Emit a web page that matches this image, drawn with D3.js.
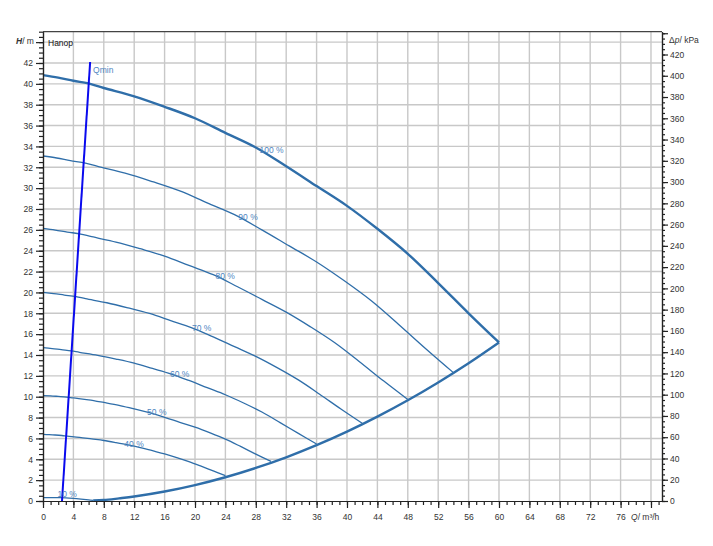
<!DOCTYPE html>
<html><head><meta charset="utf-8">
<script src="https://cdn.jsdelivr.net/npm/d3@7"></script>
<style>body{margin:0;background:#fff}svg{display:block}text{font-family:"Liberation Sans",Arial,sans-serif}</style>
</head><body><svg id="c" width="713" height="546"></svg>
<script>
// ---- data (Q in m³/h, H in m) ----
const curve100 = [[0,40.84],[2,40.6],[4,40.3],[6.2,40.0],[8,39.6],[12,38.8],[16,37.8],[20,36.7],[24,35.3],[28,33.9],[32,32.1],[36,30.2],[40,28.3],[44,26.1],[48,23.7],[52,20.9],[56,18.0],[60,15.2]];
const curve90 = [[0,33.08],[1.8,32.89],[3.6,32.64],[5.58,32.4],[7.2,32.08],[10.8,31.43],[14.4,30.62],[18,29.73],[21.6,28.59],[25.2,27.46],[28.8,26.0],[32.4,24.46],[36,22.92],[39.6,21.14],[43.2,19.2],[46.8,16.93],[50.4,14.58],[54,12.31]];
const curve80 = [[0,26.14],[1.6,25.98],[3.2,25.79],[4.96,25.6],[6.4,25.34],[9.6,24.83],[12.8,24.19],[16,23.49],[19.2,22.59],[22.4,21.7],[25.6,20.54],[28.8,19.33],[32,18.11],[35.2,16.7],[38.4,15.17],[41.6,13.38],[44.8,11.52],[48,9.73]];
const curve70 = [[0,20.0],[1.4,19.89],[2.8,19.75],[4.34,19.6],[5.6,19.4],[8.4,19.01],[11.2,18.52],[14,17.98],[16.8,17.3],[19.6,16.61],[22.4,15.73],[25.2,14.8],[28,13.87],[30.8,12.79],[33.6,11.61],[36.4,10.24],[39.2,8.82],[42,7.45]];
const curve60 = [[0,14.7],[1.2,14.62],[2.4,14.51],[3.72,14.4],[4.8,14.26],[7.2,13.97],[9.6,13.61],[12,13.21],[14.4,12.71],[16.8,12.2],[19.2,11.56],[21.6,10.87],[24,10.19],[26.4,9.4],[28.8,8.53],[31.2,7.52],[33.6,6.48],[36,5.47]];
const curve50 = [[0,10.1],[1,10.08],[2,10.03],[3.1,9.97],[4,9.88],[6,9.7],[8,9.45],[10,9.18],[12,8.83],[14,8.48],[16,8.03],[18,7.55],[20,7.08],[22,6.53],[24,5.93],[26,5.23],[28,4.5],[30,3.8]];
const curve40 = [[0,6.38],[0.8,6.36],[1.6,6.33],[2.48,6.28],[3.2,6.22],[4.8,6.1],[6.4,5.95],[8,5.8],[9.6,5.6],[11.2,5.38],[12.8,5.12],[14.4,4.82],[16,4.52],[17.6,4.17],[19.2,3.78],[20.8,3.34],[22.4,2.88],[24,2.43]];
const curve10 = [[0,0.33],[1,0.33],[2,0.32],[3,0.3],[4,0.25],[5,0.18],[6,0.1],[6.6,0.05]];
const systemCurve = [[6.6,0.05],[8,0.09],[10,0.25],[12,0.43],[16,0.91],[20,1.53],[24,2.28],[28,3.17],[32,4.19],[36,5.35],[40,6.65],[44,8.09],[48,9.66],[52,11.37],[56,13.21],[60,15.2]];
const qminLine = [[2.5,0],[6.2,42.1]];
const speedCurves = [curve100, curve90, curve80, curve70, curve60, curve50, curve40, curve10];
const speedLabels = ["100 %","90 %","80 %","70 %","60 %","50 %","40 %","10 %"];
const labelQ = [28.5, 25.7, 22.7, 19.6, 16.7, 13.7, 10.7, 1.9];
const xTickLabels = d3.range(0, 80, 4);      // 0..76
const yTickLabels = d3.range(0, 43, 2);      // 0..42
const kpaTickLabels = d3.range(0, 421, 20);  // 0..420
const xMax = 81.45, yMax = 45, kpaPerM = 9.81;

// ---- layout ----
const L = 43, R = 662, T = 31.7, B = 501;
const svg = d3.select("#c");
const x = d3.scaleLinear().domain([0, xMax]).range([L, R]);
const y = d3.scaleLinear().domain([0, yMax]).range([B, T]);
const yk = d3.scaleLinear().domain([0, yMax * kpaPerM]).range([B, T]);

const curveColor = "#2f6ea9", labelColor = "#4f86bf", gridColor = "#c8c8c8", axisColor = "#222", textColor = "#333";

// grid
const g = svg.append("g");
g.selectAll("line.v").data(d3.range(4, 81, 4)).join("line")
  .attr("x1", d => x(d)).attr("x2", d => x(d)).attr("y1", T).attr("y2", B)
  .attr("stroke", gridColor).attr("stroke-width", 1.4);
g.selectAll("line.h").data(d3.range(2, 45, 2)).join("line")
  .attr("y1", d => y(d)).attr("y2", d => y(d)).attr("x1", L).attr("x2", R)
  .attr("stroke", gridColor).attr("stroke-width", 1.4);
svg.append("line").attr("x1", L).attr("x2", R).attr("y1", T).attr("y2", T)
  .attr("stroke", "#444").attr("stroke-width", 1.2);

// curves
const line = d3.line().x(d => x(d[0])).y(d => y(d[1])).curve(d3.curveCatmullRom.alpha(0.5));
speedCurves.forEach((c, i) => {
  svg.append("path").attr("d", line(c)).attr("fill", "none")
    .attr("stroke", curveColor).attr("stroke-width", i === 0 ? 2.4 : 1.3);
});
svg.append("path").attr("d", line(systemCurve)).attr("fill", "none")
  .attr("stroke", curveColor).attr("stroke-width", 2.4);

// Qmin
const qline = d3.line().x(d => x(d[0])).y(d => y(d[1]));
svg.append("path").attr("d", qline(qminLine)).attr("fill", "none")
  .attr("stroke", "#0a0aee").attr("stroke-width", 2);
svg.append("text").attr("x", x(qminLine[1][0]) + 3).attr("y", y(qminLine[1][1]) + 8.5)
  .attr("dy", "0.35em").attr("font-size", 8.5).attr("fill", labelColor).text("Qmin");

// speed labels
function interp(c, q) {
  for (let i = 1; i < c.length; i++) {
    if (q <= c[i][0]) {
      const t = (q - c[i-1][0]) / (c[i][0] - c[i-1][0]);
      return c[i-1][1] + t * (c[i][1] - c[i-1][1]);
    }
  }
  return c[c.length - 1][1];
}
speedCurves.forEach((c, i) => {
  const yy = Math.min(y(interp(c, labelQ[i])), y(0) - 7);
  svg.append("text").attr("x", x(labelQ[i])).attr("y", yy).attr("dy", "0.35em")
    .attr("font-size", 8.5).attr("fill", labelColor).text(speedLabels[i]);
});

// axes
function styleAxis(sel) {
  sel.selectAll("path.domain").attr("stroke", axisColor).attr("stroke-width", 1.2);
  sel.selectAll(".tick line").attr("stroke", axisColor).attr("stroke-width", 1.2);
  sel.selectAll("text").attr("fill", textColor).attr("font-size", 8.5)
    .attr("font-family", '"Liberation Sans",Arial,sans-serif');
}
// left
svg.append("g").attr("transform", `translate(${L},0)`)
  .call(d3.axisLeft(y).tickValues(d3.range(0, 45.01, 0.5)).tickSize(4).tickSizeOuter(0).tickFormat(""))
  .call(styleAxis);
svg.append("g").attr("transform", `translate(${L},0)`)
  .call(d3.axisLeft(y).tickValues(d3.range(0, 45, 2)).tickSize(7).tickPadding(3).tickSizeOuter(0)
    .tickFormat(d => yTickLabels.includes(d) ? d : ""))
  .call(styleAxis);
// bottom
svg.append("g").attr("transform", `translate(0,${B})`)
  .call(d3.axisBottom(x).tickValues(d3.range(0, 81.01, 1)).tickSize(4).tickSizeOuter(0).tickFormat(""))
  .call(styleAxis);
svg.append("g").attr("transform", `translate(0,${B})`)
  .call(d3.axisBottom(x).tickValues(d3.range(0, 81, 4)).tickSize(7).tickPadding(6).tickSizeOuter(0)
    .tickFormat(d => xTickLabels.includes(d) ? d : ""))
  .call(styleAxis);
// right
svg.append("g").attr("transform", `translate(${R},0)`)
  .call(d3.axisRight(yk).tickValues(d3.range(0, 441, 5)).tickSize(3).tickSizeOuter(0).tickFormat(""))
  .call(styleAxis);
svg.append("g").attr("transform", `translate(${R},0)`)
  .call(d3.axisRight(yk).tickValues(d3.range(0, 441, 20)).tickSize(6).tickPadding(2).tickSizeOuter(0)
    .tickFormat(d => kpaTickLabels.includes(d) ? d : ""))
  .call(styleAxis);

// titles
const hT = svg.append("text").attr("x", 16).attr("y", 44).attr("font-size", 8.5).attr("fill", textColor);
hT.append("tspan").attr("font-style", "italic").attr("font-weight", "bold").text("H");
hT.append("tspan").text("/ m");
const pT = svg.append("text").attr("x", 669).attr("y", 43).attr("font-size", 8.5).attr("fill", textColor);
pT.append("tspan").text("Δ");
pT.append("tspan").attr("font-style", "italic").text("p");
pT.append("tspan").text("/ kPa");
const qT = svg.append("text").attr("x", 631).attr("y", 520).attr("font-size", 8.5).attr("fill", textColor);
qT.append("tspan").attr("font-style", "italic").text("Q");
qT.append("tspan").text("/ m³/h");
svg.append("text").attr("x", 48).attr("y", 45.5).attr("font-size", 8.5).attr("fill", "#111").text("Hanop");
</script></body></html>
